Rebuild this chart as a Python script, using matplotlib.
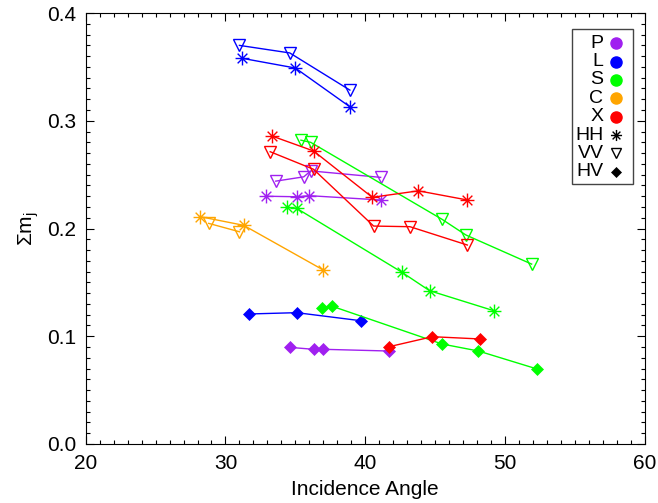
import matplotlib
matplotlib.use('Agg')
import matplotlib.pyplot as plt
from matplotlib.path import Path
from matplotlib.patches import Rectangle
from matplotlib.ticker import MultipleLocator

plt.rcParams['font.family'] = ['Liberation Sans', 'DejaVu Sans']
plt.rcParams['mathtext.fontset'] = 'custom'
plt.rcParams['mathtext.rm'] = 'Liberation Sans'
plt.rcParams['mathtext.it'] = 'Liberation Sans'

# 各波段 / 極化 的入射角與 Σm_j
P_HH_ANG = [32.9, 35.1, 36.0, 41.1]
P_HH_SUM = [0.230, 0.2295, 0.2305, 0.2265]
P_VV_ANG = [33.6, 35.6, 36.1, 41.1]
P_VV_SUM = [0.244, 0.248, 0.2535, 0.2475]
P_HV_ANG = [34.6, 36.3, 37.0, 41.7]
P_HV_SUM = [0.0897, 0.0879, 0.0879, 0.0863]

L_HH_ANG = [31.2, 35.0, 38.9]
L_HH_SUM = [0.358, 0.349, 0.313]
L_VV_ANG = [31.0, 34.6, 38.9]
L_VV_SUM = [0.370, 0.363, 0.3285]
L_HV_ANG = [31.7, 35.1, 39.7]
L_HV_SUM = [0.1207, 0.1219, 0.1144]

S_HH_ANG = [34.4, 35.1, 42.6, 44.6, 49.2]
S_HH_SUM = [0.2197, 0.2187, 0.1596, 0.1423, 0.1237]
S_VV_ANG = [35.4, 36.1, 45.5, 47.2, 51.9]
S_VV_SUM = [0.282, 0.280, 0.2085, 0.194, 0.167]
S_HV_ANG = [36.9, 37.6, 45.5, 48.1, 52.3]
S_HV_SUM = [0.126, 0.128, 0.0928, 0.0863, 0.0696]

C_HH_ANG = [28.2, 31.3, 37.0]
C_HH_SUM = [0.211, 0.203, 0.1615]
C_VV_ANG = [28.8, 31.0]
C_VV_SUM = [0.2048, 0.197]

X_HH_ANG = [33.3, 36.3, 40.5, 43.8, 47.3]
X_HH_SUM = [0.286, 0.272, 0.229, 0.235, 0.2265]
X_VV_ANG = [33.2, 36.3, 40.6, 43.2, 47.3]
X_VV_SUM = [0.2713, 0.255, 0.2023, 0.2017, 0.1847]
X_HV_ANG = [41.7, 44.8, 48.2]
X_HV_SUM = [0.0903, 0.0996, 0.0975]

BANDS = ['P', 'L', 'S', 'C', 'X']
POLS = ['HH', 'VV', 'HV']
COLORS = {'P': '#a020f0', 'L': '#0000ff', 'S': '#00ff00',
          'C': '#ffa500', 'X': '#ff0000'}

# IDL 風格星號
ASTERISK = Path(
    [(-1, 0), (1, 0), (0, -1), (0, 1),
     (-0.7, -0.7), (0.7, 0.7), (-0.7, 0.7), (0.7, -0.7)],
    [Path.MOVETO, Path.LINETO] * 4)

MARKERS = {
    'HH': dict(marker=ASTERISK, markersize=10, markeredgewidth=1.0,
               fillstyle='none'),
    'VV': dict(marker='v', markersize=9, markeredgewidth=1.0,
               fillstyle='none'),
    'HV': dict(marker='D', markersize=6, markeredgewidth=0.5),
}

series = {
    ('P', 'HH'): (P_HH_ANG, P_HH_SUM), ('P', 'VV'): (P_VV_ANG, P_VV_SUM),
    ('P', 'HV'): (P_HV_ANG, P_HV_SUM),
    ('L', 'HH'): (L_HH_ANG, L_HH_SUM), ('L', 'VV'): (L_VV_ANG, L_VV_SUM),
    ('L', 'HV'): (L_HV_ANG, L_HV_SUM),
    ('S', 'HH'): (S_HH_ANG, S_HH_SUM), ('S', 'VV'): (S_VV_ANG, S_VV_SUM),
    ('S', 'HV'): (S_HV_ANG, S_HV_SUM),
    ('C', 'HH'): (C_HH_ANG, C_HH_SUM), ('C', 'VV'): (C_VV_ANG, C_VV_SUM),
    ('X', 'HH'): (X_HH_ANG, X_HH_SUM), ('X', 'VV'): (X_VV_ANG, X_VV_SUM),
    ('X', 'HV'): (X_HV_ANG, X_HV_SUM),
}

fig = plt.figure(figsize=(6.58, 5.03), dpi=100)
ax = fig.add_axes([0.1302, 0.1173, 0.8498, 0.8567])

for (band, pol), (ang, val) in series.items():
    c = COLORS[band]
    ax.plot(ang, val, color=c, linewidth=1.0, markeredgecolor=c,
            markerfacecolor=c if pol == 'HV' else 'none', **MARKERS[pol])

ax.set_xlim(20, 60)
ax.set_ylim(0.0, 0.4)
ax.xaxis.set_major_locator(MultipleLocator(10))
ax.xaxis.set_minor_locator(MultipleLocator(1))
ax.yaxis.set_major_locator(MultipleLocator(0.1))
ax.yaxis.set_minor_locator(MultipleLocator(0.01))
ax.yaxis.set_major_formatter(plt.FormatStrFormatter('%.1f'))
ax.tick_params(which='both', direction='in', top=True, right=True,
               labelsize=15, width=0.8, pad=7)
ax.tick_params(which='major', length=6)
ax.tick_params(which='minor', length=3)
for sp in ax.spines.values():
    sp.set_linewidth(0.8)

ax.set_xlabel('Incidence Angle', fontsize=15, labelpad=5)
ax.set_ylabel('Σm$_{\\rm j}$', fontsize=15, labelpad=4)

# 圖例（IDL 風格：文字靠右、符號在右）
ax.add_patch(Rectangle((0.8695, 0.603), 0.109, 0.36, transform=ax.transAxes,
                       facecolor='white', edgecolor='#444444', linewidth=1.0,
                       zorder=5))
leg_items = [(b, COLORS[b], 'o') for b in BANDS] + \
            [(p, 'black', None) for p in POLS]
for i, (label, col, mk) in enumerate(leg_items):
    yy = 0.930 - i * 0.0426
    ax.text(0.926, yy, label, transform=ax.transAxes, ha='right',
            va='center', fontsize=14, zorder=6)
    if mk == 'o':
        ax.plot(0.949, yy, transform=ax.transAxes, marker='o', markersize=8,
                color=col, linestyle='none', zorder=6, clip_on=False)
    else:
        style = dict(MARKERS[label])
        style['markersize'] = style['markersize'] * 0.8
        ax.plot(0.949, yy, transform=ax.transAxes, color='black',
                markeredgecolor='black',
                markerfacecolor='black' if label == 'HV' else 'none',
                linestyle='none', zorder=6, clip_on=False, **style)

fig.savefig('out.png', dpi=100)
